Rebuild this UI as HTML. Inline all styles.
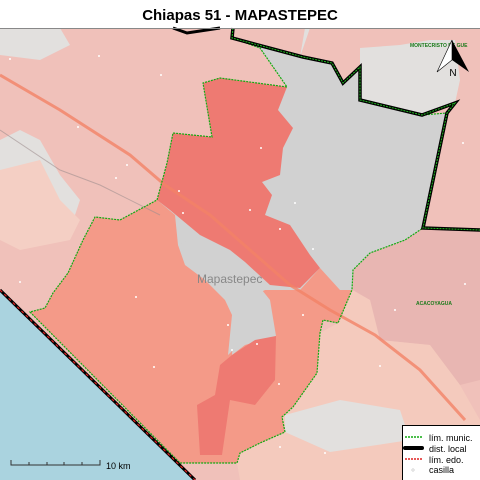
<!DOCTYPE html>
<html><head><meta charset="utf-8"><style>
html,body{margin:0;padding:0;background:#fff}
svg{display:block;font-family:"Liberation Sans",sans-serif}
</style></head><body>
<svg width="480" height="480" viewBox="0 0 480 480">
<rect x="0" y="0" width="480" height="480" fill="#fff"/>
<text x="240" y="20" text-anchor="middle" font-size="15" font-weight="bold" fill="#000">Chiapas 51 - MAPASTEPEC</text>
<g>
<rect x="0" y="28" width="480" height="452" fill="#f0c1ba"/>
<polygon points="0,140 20,130 40,140 60,175 80,200 70,230 30,240 0,230" fill="#e2e0de"/>
<polygon points="0,170 40,160 60,200 80,220 70,240 20,250 0,240" fill="#f4cfc4"/>
<polygon points="0,28 60,28 70,45 40,60 0,55" fill="#e2e0de"/>
<polygon points="303,28 480,28 480,80 455,103 422,115 360,100 360,67 343,83 332,63 303,57" fill="#f0c1ba"/>
<polygon points="305,28 310,28 300,57" fill="#e2e0de"/>
<polygon points="360,48 400,45 430,40 455,40 460,80 455,103 422,115 360,100" fill="#e2e0de"/>
<polygon points="455,103 480,85 480,230 423,228 447,113" fill="#f0c1ba"/>
<polygon points="405,240 423,228 480,230 480,380 460,385 430,345 380,340 370,300 353,290 353,270 370,253" fill="#e8b6b2"/>
<polygon points="320,333 338,323 352,290 370,300 380,340 430,345 460,385 480,420 480,480 240,480 237,463 240,453 260,443 285,432 282,417 293,407 317,373" fill="#f4cabd"/>
<polygon points="285,415 340,400 400,410 410,440 330,452 285,432" fill="#e2e0de"/>
<polygon points="0,290 195,480 0,480" fill="#aad3df"/>
<polygon points="232,38 303,57 332,63 343,83 360,67 360,100 422,115 447,113 423,228 405,240 370,253 353,270 352,290 338,323 323,320 320,333 317,373 293,407 282,417 285,432 260,443 240,453 237,463 180,463 30,312 45,308 53,293 68,273 83,240 95,217 120,220 157,200 167,163 173,133 212,137 203,83 220,78 287,87 260,48" fill="#d1d1d1"/>
<polygon points="30,312 45,308 53,293 68,273 83,240 95,217 120,220 157,200 175,215 178,245 200,265 220,280 235,300 232,355 245,345 276,336 270,300 262,290 300,290 320,268 340,290 352,290 338,323 323,320 320,333 317,373 293,407 282,417 285,432 260,443 240,453 237,463 180,463" fill="#f49a88"/>
<polygon points="178,245 200,236 235,258 262,275 265,290 245,300 236,312 233,350 228,355 232,315 225,300 205,280 185,265" fill="#d1d1d1"/>
<polygon points="203,83 220,78 287,87 278,110 293,128 283,148 280,175 262,182 272,195 265,215 290,225 310,255 320,268 300,288 270,285 245,262 230,250 200,235 170,210 157,200 167,163 173,133 212,137" fill="#ee7a72"/>
<polygon points="232,355 255,340 276,336 275,380 255,405 230,400 222,455 200,455 197,405 215,395 220,365" fill="#ee7a72"/>
<polyline points="0,75 60,110 130,155 165,185 210,215 250,250 290,285 330,310 375,335 420,370 465,420" fill="none" stroke="#f28266" stroke-width="3" opacity="0.8"/>
<polyline points="0,130 60,170 100,185 160,215" fill="none" stroke="#a09090" stroke-width="1" opacity="0.6"/>
<polygon points="232,38 303,57 332,63 343,83 360,67 360,100 422,115 447,113 423,228 405,240 370,253 353,270 352,290 338,323 323,320 320,333 317,373 293,407 282,417 285,432 260,443 240,453 237,463 180,463 30,312 45,308 53,293 68,273 83,240 95,217 120,220 157,200 167,163 173,133 212,137 203,83 220,78 287,87 260,48" fill="none" stroke="#11aa11" stroke-width="1.2" stroke-dasharray="2,1"/>
<polyline points="173,28 187,33 220,28" fill="none" stroke="#000" stroke-width="3"/>
<polyline points="233,28 232,38 303,57 332,63 343,83 360,67 360,100 422,115 455,103 447,113 423,228 480,230" fill="none" stroke="#000" stroke-width="3.5"/>
<polyline points="233,28 232,38 303,57 332,63 343,83 360,67 360,100 422,115 455,103 447,113 423,228 480,230" fill="none" stroke="#22bb22" stroke-width="1" stroke-dasharray="2,1"/>
<line x1="0" y1="290" x2="195" y2="480" stroke="#000" stroke-width="3"/>
<line x1="0" y1="290" x2="195" y2="480" stroke="#e02020" stroke-width="1.2" stroke-dasharray="3,3"/>
<text x="197" y="283" font-size="12" fill="#888">Mapastepec</text>
<text x="410" y="47" font-size="5" fill="#1a7a1a" font-weight="bold">MONTECRISTO DE GUE</text>
<text x="416" y="305" font-size="5" fill="#1a7a1a" font-weight="bold">ACACOYAGUA</text>
<g fill="#fff">
<circle cx="10" cy="59" r="1"/><circle cx="99" cy="56" r="1"/><circle cx="161" cy="75" r="1"/><circle cx="78" cy="127" r="1"/><circle cx="127" cy="165" r="1"/><circle cx="116" cy="178" r="1"/><circle cx="179" cy="191" r="1"/><circle cx="261" cy="148" r="1"/><circle cx="295" cy="203" r="1"/><circle cx="250" cy="210" r="1"/><circle cx="280" cy="229" r="1"/><circle cx="183" cy="213" r="1"/><circle cx="463" cy="143" r="1"/><circle cx="136" cy="297" r="1"/><circle cx="154" cy="367" r="1"/><circle cx="228" cy="325" r="1"/><circle cx="232" cy="350" r="1"/><circle cx="257" cy="344" r="1"/><circle cx="303" cy="315" r="1"/><circle cx="279" cy="384" r="1"/><circle cx="20" cy="282" r="1"/><circle cx="313" cy="249" r="1"/><circle cx="395" cy="310" r="1"/><circle cx="465" cy="284" r="1"/><circle cx="380" cy="366" r="1"/><circle cx="325" cy="453" r="1"/><circle cx="280" cy="447" r="1"/>
</g>
</g>
<g>
<polygon points="452,40 437,72 452,60" fill="#fff" stroke="#000" stroke-width="0.6"/>
<polygon points="452,40 469,72 452,60" fill="#000"/>
<text x="453" y="76" text-anchor="middle" font-size="10" fill="#000">N</text>
</g>
<g>
<polyline points="11,460 11,465 100,465 100,460" fill="none" stroke="#333" stroke-width="1"/>
<line x1="29" y1="462" x2="29" y2="465" stroke="#333"/><line x1="47" y1="462" x2="47" y2="465" stroke="#333"/><line x1="64" y1="462" x2="64" y2="465" stroke="#333"/><line x1="82" y1="462" x2="82" y2="465" stroke="#333"/>
<text x="106" y="469" font-size="9" fill="#000">10 km</text>
</g>
<g>
<rect x="402.5" y="425.5" width="78" height="55" fill="#fff" stroke="#000" stroke-width="1"/>
<line x1="405" y1="437" x2="422" y2="437" stroke="#11aa11" stroke-width="1.5" stroke-dasharray="2,1"/>
<text x="429" y="441" font-size="9" fill="#000">lím. munic.</text>
<line x1="405" y1="448" x2="422" y2="448" stroke="#000" stroke-width="4" stroke-linecap="round"/>
<text x="429" y="452" font-size="9" fill="#000">dist. local</text>
<line x1="405" y1="459" x2="422" y2="459" stroke="#e02020" stroke-width="1.5" stroke-dasharray="2,1"/>
<text x="429" y="463" font-size="9" fill="#000">lím. edo.</text>
<circle cx="413" cy="470" r="1.2" fill="#fff" stroke="#aaa" stroke-width="0.5"/>
<text x="429" y="473" font-size="9" fill="#000">casilla</text>
</g>
<line x1="0" y1="28.5" x2="480" y2="28.5" stroke="#888" stroke-width="1"/>
</svg>
</body></html>
